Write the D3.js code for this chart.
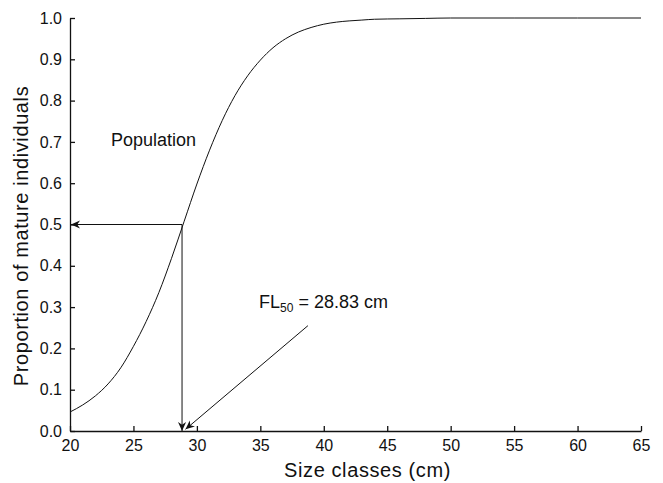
<!DOCTYPE html>
<html>
<head>
<meta charset="utf-8">
<script src="https://cdn.jsdelivr.net/npm/d3@7"></script>
<style>
  body { margin: 0; background: #fff; }
  text { font-family: "Liberation Sans", Arial, sans-serif; }
</style>
</head>
<body>
<div id="canvas"></div>
<script>
var margin = {top: 18, right: 22, bottom: 52, left: 70},
width = 663 - margin.left - margin.right,
height = 483 - margin.top - margin.bottom;

// size classes (cm) and proportion mature
const sizes      = [20, 21, 22, 23, 24, 25, 26, 27, 28, 29, 30, 31, 32, 33, 34, 35, 36, 37, 38, 39, 40, 41, 42, 43, 44, 46, 48, 50, 55, 60, 65]
const proportion = [0.046, 0.063, 0.085, 0.114, 0.153, 0.205, 0.265, 0.335, 0.418, 0.508, 0.598, 0.68, 0.752, 0.812, 0.86, 0.898, 0.928, 0.95, 0.966, 0.977, 0.985, 0.99, 0.993, 0.995, 0.997, 0.998, 0.999, 1.0, 1.0, 1.0, 1.0]

const xTicks = [20, 25, 30, 35, 40, 45, 50, 55, 60, 65]
const yTicks = [0, 0.1, 0.2, 0.3, 0.4, 0.5, 0.6, 0.7, 0.8, 0.9, 1.0]

const fl50 = 28.83
const pointerFrom = [38.75, 0.255]   // start of the label arrow
const pointerTo   = [29.1, 0.004]

const data = sizes.map((s, i) => ({size: s, p: proportion[i]}))

const svg = d3.select("#canvas")
    .append("svg")
        .attr("width", width + margin.left + margin.right)
        .attr("height", height + margin.top + margin.bottom)

svg.append("defs").append("marker")
    .attr("id", "head")
    .attr("viewBox", "0 0 10 10")
    .attr("refX", 10)
    .attr("refY", 5)
    .attr("markerWidth", 9)
    .attr("markerHeight", 9)
    .attr("markerUnits", "userSpaceOnUse")
    .attr("orient", "auto")
  .append("path")
    .attr("d", "M0,0.5 L10,5 L0,9.5 L3,5 Z")
    .attr("fill", "#111")

const canvas = svg.append("g")
    .attr("transform", "translate(" + margin.left + "," + margin.top + ")")

const xScale = d3.scaleLinear()
    .domain([20, 65])
    .range([0, width])

const yScale = d3.scaleLinear()
    .domain([0, 1])
    .range([height, 0])

const xAxis = canvas.append("g")
    .attr("transform", "translate(0," + height + ")")
    .call(d3.axisBottom(xScale).tickValues(xTicks).tickSizeInner(-5).tickSizeOuter(0).tickPadding(9))

const yAxis = canvas.append("g")
    .call(d3.axisLeft(yScale).tickValues(yTicks).tickFormat(d3.format(".1f")).tickSizeInner(-5).tickSizeOuter(0).tickPadding(8))

for (const ax of [xAxis, yAxis]) {
    ax.selectAll("text").attr("font-size", 16).attr("fill", "#111")
    ax.selectAll("line, path").attr("stroke", "#111").attr("stroke-width", 1.3)
}

canvas.append("path")
    .datum(data)
    .attr("fill", "none")
    .attr("stroke", "#111")
    .attr("stroke-width", 1)
    .attr("d", d3.line()
        .x(d => xScale(d.size))
        .y(d => yScale(d.p))
        .curve(d3.curveMonotoneX))

// horizontal arrow to the y axis
canvas.append("line")
    .attr("x1", xScale(fl50)).attr("y1", yScale(0.5))
    .attr("x2", xScale(20) + 1).attr("y2", yScale(0.5))
    .attr("stroke", "#111").attr("stroke-width", 1)
    .attr("marker-end", "url(#head)")

// vertical arrow down to the x axis
canvas.append("line")
    .attr("x1", xScale(fl50)).attr("y1", yScale(0.5))
    .attr("x2", xScale(fl50)).attr("y2", yScale(0))
    .attr("stroke", "#111").attr("stroke-width", 1)
    .attr("marker-end", "url(#head)")

// label pointer
canvas.append("line")
    .attr("x1", xScale(pointerFrom[0])).attr("y1", yScale(pointerFrom[1]))
    .attr("x2", xScale(pointerTo[0])).attr("y2", yScale(pointerTo[1]))
    .attr("stroke", "#111").attr("stroke-width", 1)
    .attr("marker-end", "url(#head)")

const label = canvas.append("text")
    .attr("x", 189)
    .attr("y", 290)
    .attr("font-size", 18)
    .attr("fill", "#111")
label.append("tspan").text("FL")
label.append("tspan").attr("font-size", 12).attr("dy", 4).text("50")
label.append("tspan").attr("dy", -4).text(" = 28.83 cm")

canvas.append("text")
    .attr("x", 41)
    .attr("y", 128)
    .attr("font-size", 18)
    .attr("fill", "#111")
    .text("Population")

svg.append("text")
    .attr("x", margin.left + width / 2 + 12)
    .attr("y", 477)
    .attr("text-anchor", "middle")
    .attr("font-size", 20)
    .attr("letter-spacing", 0.6)
    .attr("fill", "#111")
    .text("Size classes (cm)")

svg.append("text")
    .attr("transform", "translate(28,236) rotate(-90)")
    .attr("text-anchor", "middle")
    .attr("font-size", 20)
    .attr("letter-spacing", 0.6)
    .attr("fill", "#111")
    .text("Proportion of mature individuals")
</script>
</body>
</html>
